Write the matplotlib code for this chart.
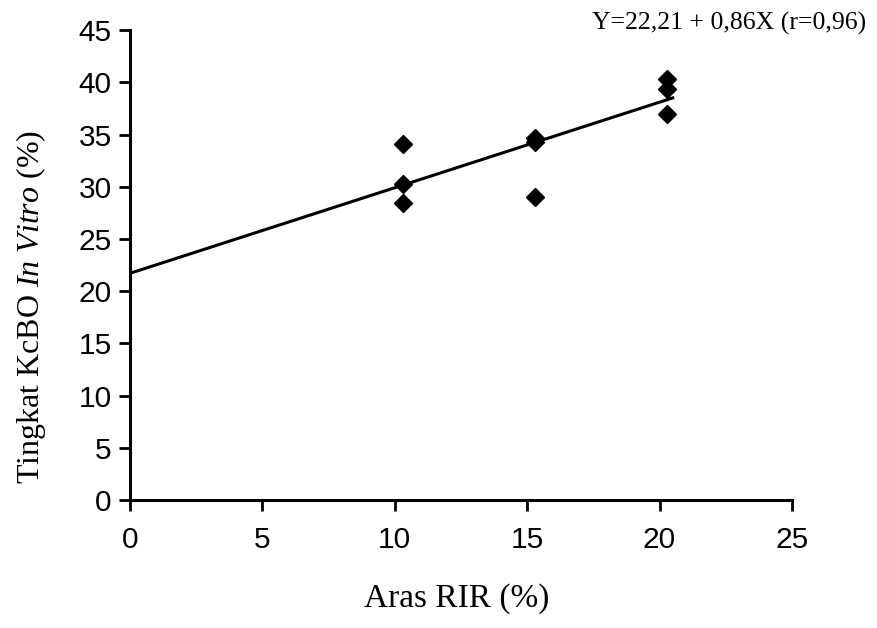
import matplotlib
matplotlib.use('Agg')
import matplotlib.pyplot as plt

plt.rcParams['mathtext.fontset'] = 'custom'
plt.rcParams['mathtext.rm'] = 'Liberation Serif'
plt.rcParams['mathtext.it'] = 'Liberation Serif:italic'

# data
rir = [10.3, 10.3, 10.3, 15.3, 15.3, 15.3, 20.3, 20.3, 20.3]
kcbo = [34.1, 30.3, 28.4, 34.7, 34.3, 29.0, 40.3, 39.4, 37.0]

# regression line as drawn
intercept = 21.7
slope = 0.82
line_x = [0, 20.5]
equation = 'Y=22,21 + 0,86X (r=0,96)'

x_ticks = [0, 5, 10, 15, 20, 25]
y_ticks = [0, 5, 10, 15, 20, 25, 30, 35, 40, 45]

fig = plt.figure(figsize=(8.77, 6.28), dpi=100)
ax = fig.add_axes([0.148, 0.204, 0.755, 0.748])

ax.plot(rir, kcbo, linestyle='none', marker='D', ms=9.5, color='black')
ax.plot(line_x, [intercept + slope * x for x in line_x], color='black', lw=2.2)

ax.set_xlim(0, 25)
ax.set_ylim(0, 45)
ax.set_xticks(x_ticks)
ax.set_yticks(y_ticks)

for s in ['top', 'right']:
    ax.spines[s].set_visible(False)
for s in ['left', 'bottom']:
    ax.spines[s].set_linewidth(2.2)

ax.tick_params(axis='both', direction='out', length=8, width=2,
               labelsize=21.5, labelfontfamily='Liberation Sans')
ax.tick_params(axis='x', pad=11)
ax.tick_params(axis='y', pad=5)

ax.set_xlabel('Aras RIR (%)', family='Liberation Serif', fontsize=24)
ax.set_ylabel('Tingkat KcBO $\\mathit{In\\ Vitro}$ (%)', family='Liberation Serif', fontsize=23)
ax.xaxis.set_label_coords(0.494, -0.178)
ax.yaxis.set_label_coords(-0.123, 0.41)

fig.text(592 / 877, 1 - 30 / 628, equation, family='Liberation Serif',
         fontsize=18.5, ha='left', va='baseline')

fig.savefig('out.png', dpi=100)
